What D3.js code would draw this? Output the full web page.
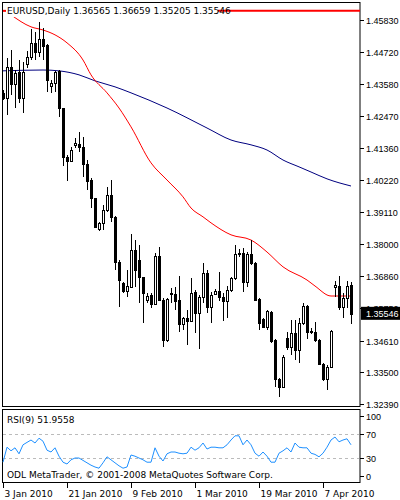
<!DOCTYPE html>
<html><head><meta charset="utf-8">
<script src="https://cdn.jsdelivr.net/npm/d3@7/dist/d3.min.js"></script>
<style>body{margin:0;background:#fff}svg{display:block}text{font-family:Tahoma,"DejaVu Sans",sans-serif;font-size:9px}text.ax{font-family:"Liberation Sans",Arial,sans-serif;font-size:9px}</style>
</head><body><svg id="c" width="400" height="500"></svg>
<script>
const opens=[1.4328,1.4310,1.4418,1.4359,1.4401,1.4310,1.4429,1.4454,1.4503,1.4471,1.4517,1.4496,1.4352,1.4363,1.4404,1.4275,1.4104,1.4090,1.4146,1.4149,1.4139,1.4079,1.4023,1.3960,1.3851,1.3873,1.3918,1.3970,1.3893,1.3736,1.3663,1.3634,1.3648,1.3778,1.3743,1.3683,1.3603,1.3620,1.3589,1.3757,1.3603,1.3463,1.3624,1.3624,1.3603,1.3519,1.3540,1.3530,1.3631,1.3557,1.3613,1.3697,1.3578,1.3624,1.3634,1.3613,1.3600,1.3638,1.3680,1.3767,1.3767,1.3666,1.3764,1.3732,1.3606,1.3536,1.3508,1.3561,1.3463,1.3326,1.3298,1.3470,1.3438,1.3487,1.3428,1.3522,1.3582,1.3494,1.3491,1.3463,1.3379,1.3326,1.3368,1.3648,1.3652,1.3578,1.3610,1.36565];
const highs=[1.4338,1.4450,1.4478,1.4408,1.4443,1.4436,1.4474,1.4552,1.4541,1.4576,1.4555,1.4499,1.4373,1.4404,1.4408,1.4275,1.4111,1.4139,1.4170,1.4191,1.4174,1.4093,1.4030,1.3960,1.3876,1.3935,1.3998,1.4023,1.3897,1.3743,1.3666,1.3708,1.3834,1.3813,1.3795,1.3683,1.3627,1.3627,1.3767,1.3788,1.3610,1.3610,1.3645,1.3648,1.3687,1.3544,1.3568,1.3680,1.3638,1.3620,1.3732,1.3708,1.3631,1.3641,1.3701,1.3627,1.3653,1.3683,1.3795,1.3782,1.3785,1.3771,1.3813,1.3736,1.3610,1.3540,1.3567,1.3564,1.3466,1.3330,1.3410,1.3491,1.3533,1.3533,1.3540,1.3592,1.3585,1.3505,1.3526,1.3466,1.3381,1.3375,1.3498,1.3670,1.3687,1.3627,1.3670,1.36659];
const lows=[1.4303,1.4251,1.4321,1.4275,1.4293,1.4258,1.4415,1.4443,1.4443,1.4454,1.4443,1.4331,1.4328,1.4331,1.4244,1.4072,1.4020,1.4086,1.4135,1.4121,1.4034,1.3988,1.3925,1.3855,1.3844,1.3848,1.3911,1.3876,1.3708,1.3578,1.3627,1.3613,1.3645,1.3648,1.3592,1.3522,1.3592,1.3575,1.3585,1.3600,1.3438,1.3456,1.3592,1.3568,1.3491,1.3498,1.3445,1.3526,1.3487,1.3431,1.3592,1.3557,1.3522,1.3620,1.3600,1.3530,1.3540,1.3631,1.3673,1.3753,1.3631,1.3648,1.3725,1.3600,1.3498,1.3505,1.3498,1.3452,1.3298,1.3263,1.3296,1.3428,1.3410,1.3393,1.3382,1.3515,1.3466,1.3484,1.3456,1.3376,1.3319,1.3288,1.3366,1.3613,1.3568,1.3540,1.3575,1.35205];
const closes=[1.4310,1.4418,1.4359,1.4398,1.4310,1.4401,1.4454,1.4503,1.4471,1.4517,1.4492,1.4373,1.4363,1.4401,1.4275,1.4104,1.4090,1.4128,1.4153,1.4139,1.4079,1.4020,1.3960,1.3859,1.3873,1.3918,1.3970,1.3893,1.3736,1.3673,1.3634,1.3652,1.3778,1.3708,1.3683,1.3627,1.3617,1.3589,1.3757,1.3603,1.3463,1.3606,1.3626,1.3600,1.3519,1.3540,1.3530,1.3627,1.3557,1.3613,1.3697,1.3578,1.3620,1.3634,1.3613,1.3600,1.3638,1.3680,1.3764,1.3769,1.3666,1.3764,1.3732,1.3603,1.3522,1.3508,1.3564,1.3459,1.3326,1.3298,1.3403,1.3438,1.3487,1.3428,1.3522,1.3582,1.3491,1.3496,1.3463,1.3379,1.3326,1.3368,1.3494,1.3655,1.3578,1.3610,1.3652,1.35546];
const redIdx=[2,7,10,13,16,20,22,26,29,32,37,41,45,47,50,52,57,62,66,70,76,78,82,87];
const redVal=[1.4601,1.4559,1.4548,1.4531,1.4503,1.4443,1.4391,1.4328,1.4275,1.4209,1.4083,1.4023,1.3964,1.3925,1.3894,1.3873,1.3831,1.3813,1.3771,1.3719,1.3673,1.3652,1.3617,1.3617];
const blueIdx=[0,10,14,19,23,28,32,41,51,57,62,66,70,74,77,81,87];
const blueVal=[1.4405,1.4408,1.4405,1.4391,1.4370,1.4349,1.4328,1.4275,1.4205,1.4163,1.4146,1.4128,1.4093,1.4069,1.4051,1.4027,1.4002];
const rsi=[23,48,42,47,37,52,56,60,55,63,58,43,40,47,33,23,20,27,30,30,26,22,18,15,13,22,32,27,22,17,13,15,35,33,30,27,23,23,47,33,25,37,40,40,38,37,38,48,43,47,55,45,48,48,47,47,52,60,67,67,52,60,52,38,33,40,33,23,23,38,42,47,40,55,48,47,47,38,36,32,38,48,60,65,57,60,62,52];
const priceTicks=[1.45830,1.44720,1.43580,1.42470,1.41360,1.40220,1.39110,1.38000,1.36860,1.35750,1.34610,1.33500,1.32390];
const rsiTicks=[100,70,30,0];
const dateIdx=[0,16,32,48,64,80];
const dateLabels=["3 Jan 2010","21 Jan 2010","9 Feb 2010","1 Mar 2010","19 Mar 2010","7 Apr 2010"];
const levelLine=1.4615;
const header="EURUSD,Daily  1.36565 1.36659 1.35205 1.35546";

const svg=d3.select("#c");
const x=d3.scaleLinear().domain([0,87]).range([3,351]);
const y=d3.scaleLinear().domain([1.3239,1.4583]).range([404,20]);
const yr=d3.scaleLinear().domain([0,100]).range([476,416]);
const X=i=>Math.round(x(i))+0.5;

svg.append("rect").attr("x",2.5).attr("y",2.5).attr("width",357.5).attr("height",404).attr("fill","none").attr("stroke","#000");
svg.append("rect").attr("x",2.5).attr("y",409.5).attr("width",357.5).attr("height",73).attr("fill","none").attr("stroke","#000");

const pa=svg.append("g");
priceTicks.forEach(t=>{const yy=Math.round(y(t))+0.5;
 pa.append("line").attr("x1",360).attr("x2",364).attr("y1",yy).attr("y2",yy).attr("stroke","#000");
 pa.append("text").attr("class","ax").attr("x",366).attr("y",yy+3).text(t.toFixed(5));});
rsiTicks.forEach(t=>{const yy=Math.round(yr(t))+0.5;
 pa.append("line").attr("x1",360).attr("x2",364).attr("y1",yy).attr("y2",yy).attr("stroke","#000");
 pa.append("text").attr("class","ax").attr("x",366).attr("y",yy+3).text(t);});
[70,30].forEach(t=>{const yy=Math.round(yr(t))+0.5;
 svg.append("line").attr("x1",3).attr("x2",359).attr("y1",yy).attr("y2",yy).attr("stroke","#bbb").attr("stroke-dasharray","3,3");});

dateIdx.forEach((d,k)=>{const xx=X(d);
 svg.append("line").attr("x1",xx).attr("x2",xx).attr("y1",483).attr("y2",488).attr("stroke","#000");
 svg.append("text").attr("x",xx+1).attr("y",497).text(dateLabels[k]);});

svg.append("line").attr("x1",218).attr("x2",360).attr("y1",y(levelLine)).attr("y2",y(levelLine)).attr("stroke","#f00").attr("stroke-width",2);
svg.append("line").attr("x1",3).attr("x2",6).attr("y1",y(levelLine)).attr("y2",y(levelLine)).attr("stroke","#f00").attr("stroke-width",2);

const ln=d3.line().curve(d3.curveMonotoneX).x(d=>x(d[0])).y(d=>y(d[1]));
svg.append("path").attr("d",ln(blueIdx.map((d,i)=>[d,blueVal[i]]))).attr("fill","none").attr("stroke","#00007f").attr("stroke-width",1);
svg.append("path").attr("d",ln(redIdx.map((d,i)=>[d,redVal[i]]))).attr("fill","none").attr("stroke","#f00").attr("stroke-width",1);

const g=svg.append("g").attr("shape-rendering","crispEdges");
closes.forEach((c,i)=>{const o=opens[i],xx=X(i);
 g.append("line").attr("x1",xx).attr("x2",xx).attr("y1",y(highs[i])).attr("y2",y(lows[i])).attr("stroke","#000");
 const top=Math.round(y(Math.max(o,c))),bot=Math.round(y(Math.min(o,c)));
 g.append("rect").attr("x",xx-1).attr("y",top+0.5).attr("width",2).attr("height",Math.max(bot-top,1))
  .attr("fill",c>=o?"#fff":"#000").attr("stroke","#000");});

const cy=y(closes[closes.length-1]);
svg.append("rect").attr("x",361).attr("y",cy-7).attr("width",39).attr("height",13).attr("fill","#000");
svg.append("text").attr("class","ax").attr("x",366).attr("y",cy+3).attr("fill","#fff").text(closes[closes.length-1].toFixed(5));

svg.append("rect").attr("x",6).attr("y",5).attr("width",212).attr("height",12).attr("fill","#fff");
svg.append("text").attr("x",7).attr("y",14).text(header);

const lr=d3.line().x((d,i)=>x(i)).y(d=>yr(d));
svg.append("path").attr("d",lr(rsi)).attr("fill","none").attr("stroke","#1e90ff");
svg.append("text").attr("x",7).attr("y",423).text("RSI(9) 51.9558");
svg.append("text").attr("x",7).attr("y",478).text("ODL MetaTrader, © 2001-2008 MetaQuotes Software Corp.");
</script></body></html>
